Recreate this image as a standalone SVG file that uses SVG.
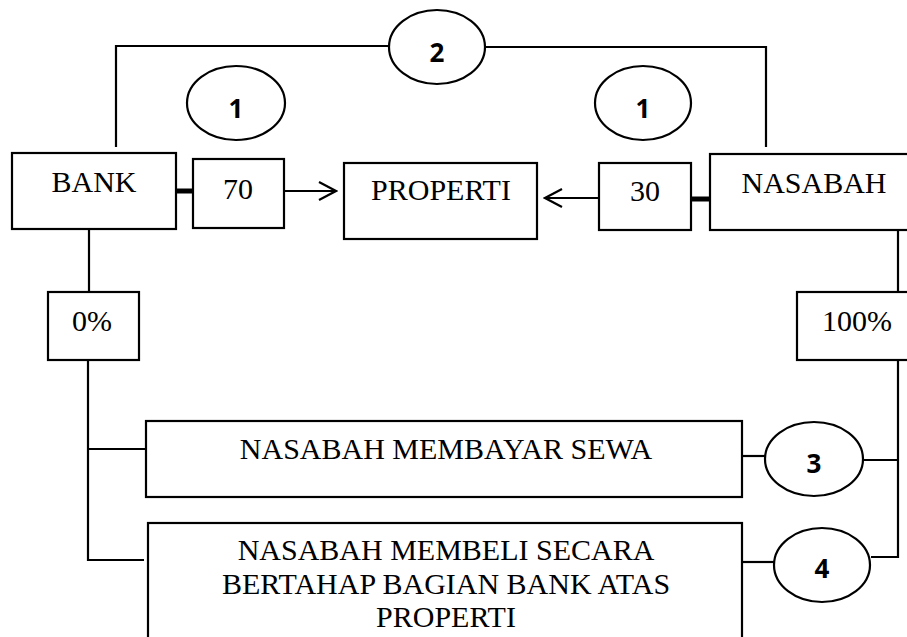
<svg xmlns="http://www.w3.org/2000/svg" width="907" height="637" viewBox="0 0 907 637">
<style>
.box{fill:#fff;stroke:#000;stroke-width:2.2}
.ell{fill:#fff;stroke:#000;stroke-width:2.2}
.ln{fill:none;stroke:#000;stroke-width:2.2}
.thick{fill:none;stroke:#000;stroke-width:5}
.t{font-family:"Liberation Serif","Times New Roman",serif;font-size:30px;text-anchor:middle;fill:#000}
.n{font-family:"Open Sans","Liberation Sans",sans-serif;font-weight:bold;font-size:26px;text-anchor:middle;fill:#000}
</style>
<defs>
<marker id="arr" viewBox="0 0 20 20" refX="18" refY="10" markerWidth="20" markerHeight="20" markerUnits="userSpaceOnUse" orient="auto">
<path d="M1,1 L18,10 L1,19" fill="none" stroke="#000" stroke-width="2.2"/>
</marker>
</defs>
<rect width="907" height="637" fill="#fff"/>
<g id="connectors">
<polyline class="ln" points="116,147 116,46 389,46"/>
<polyline class="ln" points="486,47 766,47 766,147"/>
<line class="thick" x1="176" y1="191" x2="193" y2="191"/>
<line class="ln" x1="284" y1="191" x2="336" y2="191" marker-end="url(#arr)"/>
<line class="thick" x1="691" y1="199" x2="710" y2="199"/>
<line class="ln" x1="599" y1="198" x2="545" y2="198" marker-end="url(#arr)"/>
<line class="ln" x1="89" y1="229" x2="89" y2="292"/>
<polyline class="ln" points="88,360 88,560 144,560"/>
<line class="ln" x1="88" y1="449" x2="146" y2="449"/>
<line class="ln" x1="898" y1="230" x2="898" y2="292"/>
<polyline class="ln" points="898,360 898,557 871,557"/>
<line class="ln" x1="863" y1="460" x2="898" y2="460"/>
<line class="ln" x1="742" y1="456" x2="765" y2="456"/>
<line class="ln" x1="742" y1="562" x2="774" y2="562"/>
</g>
<g id="e2"><ellipse class="ell" cx="437" cy="47" rx="48" ry="37"/><text class="n" x="437" y="62">2</text></g>
<g id="e1a"><ellipse class="ell" cx="236" cy="103" rx="49" ry="37"/><text class="n" x="236" y="118">1</text></g>
<g id="e1b"><ellipse class="ell" cx="643" cy="103" rx="48" ry="37"/><text class="n" x="643" y="118">1</text></g>
<g id="bank"><rect class="box" x="12" y="153" width="164" height="76"/><text class="t" x="94" y="192">BANK</text></g>
<g id="b70"><rect class="box" x="193" y="159" width="91" height="69"/><text class="t" x="238" y="199">70</text></g>
<g id="properti"><rect class="box" x="344" y="163" width="193" height="76"/><text class="t" x="441" y="200">PROPERTI</text></g>
<g id="b30"><rect class="box" x="599" y="163" width="92" height="67"/><text class="t" x="645" y="201">30</text></g>
<g id="nasabah"><rect class="box" x="710" y="154" width="200" height="76"/><text class="t" x="814" y="193">NASABAH</text></g>
<g id="p0"><rect class="box" x="48" y="292" width="91" height="68"/><text class="t" x="92" y="331">0%</text></g>
<g id="p100"><rect class="box" x="797" y="292" width="113" height="68"/><text class="t" x="857" y="331">100%</text></g>
<g id="sewa"><rect class="box" x="146" y="421" width="596" height="76"/><text class="t" x="446" y="459">NASABAH MEMBAYAR SEWA</text></g>
<g id="e3"><ellipse class="ell" cx="814" cy="459" rx="49" ry="37"/><text class="n" x="814" y="473">3</text></g>
<g id="beli"><rect class="box" x="148" y="523" width="594" height="130"/><text class="t" x="446" y="560">NASABAH MEMBELI SECARA</text><text class="t" x="446" y="594">BERTAHAP BAGIAN BANK ATAS</text><text class="t" x="446" y="627">PROPERTI</text></g>
<g id="e4"><ellipse class="ell" cx="822" cy="565" rx="48" ry="37"/><text class="n" x="822" y="578">4</text></g>
</svg>
